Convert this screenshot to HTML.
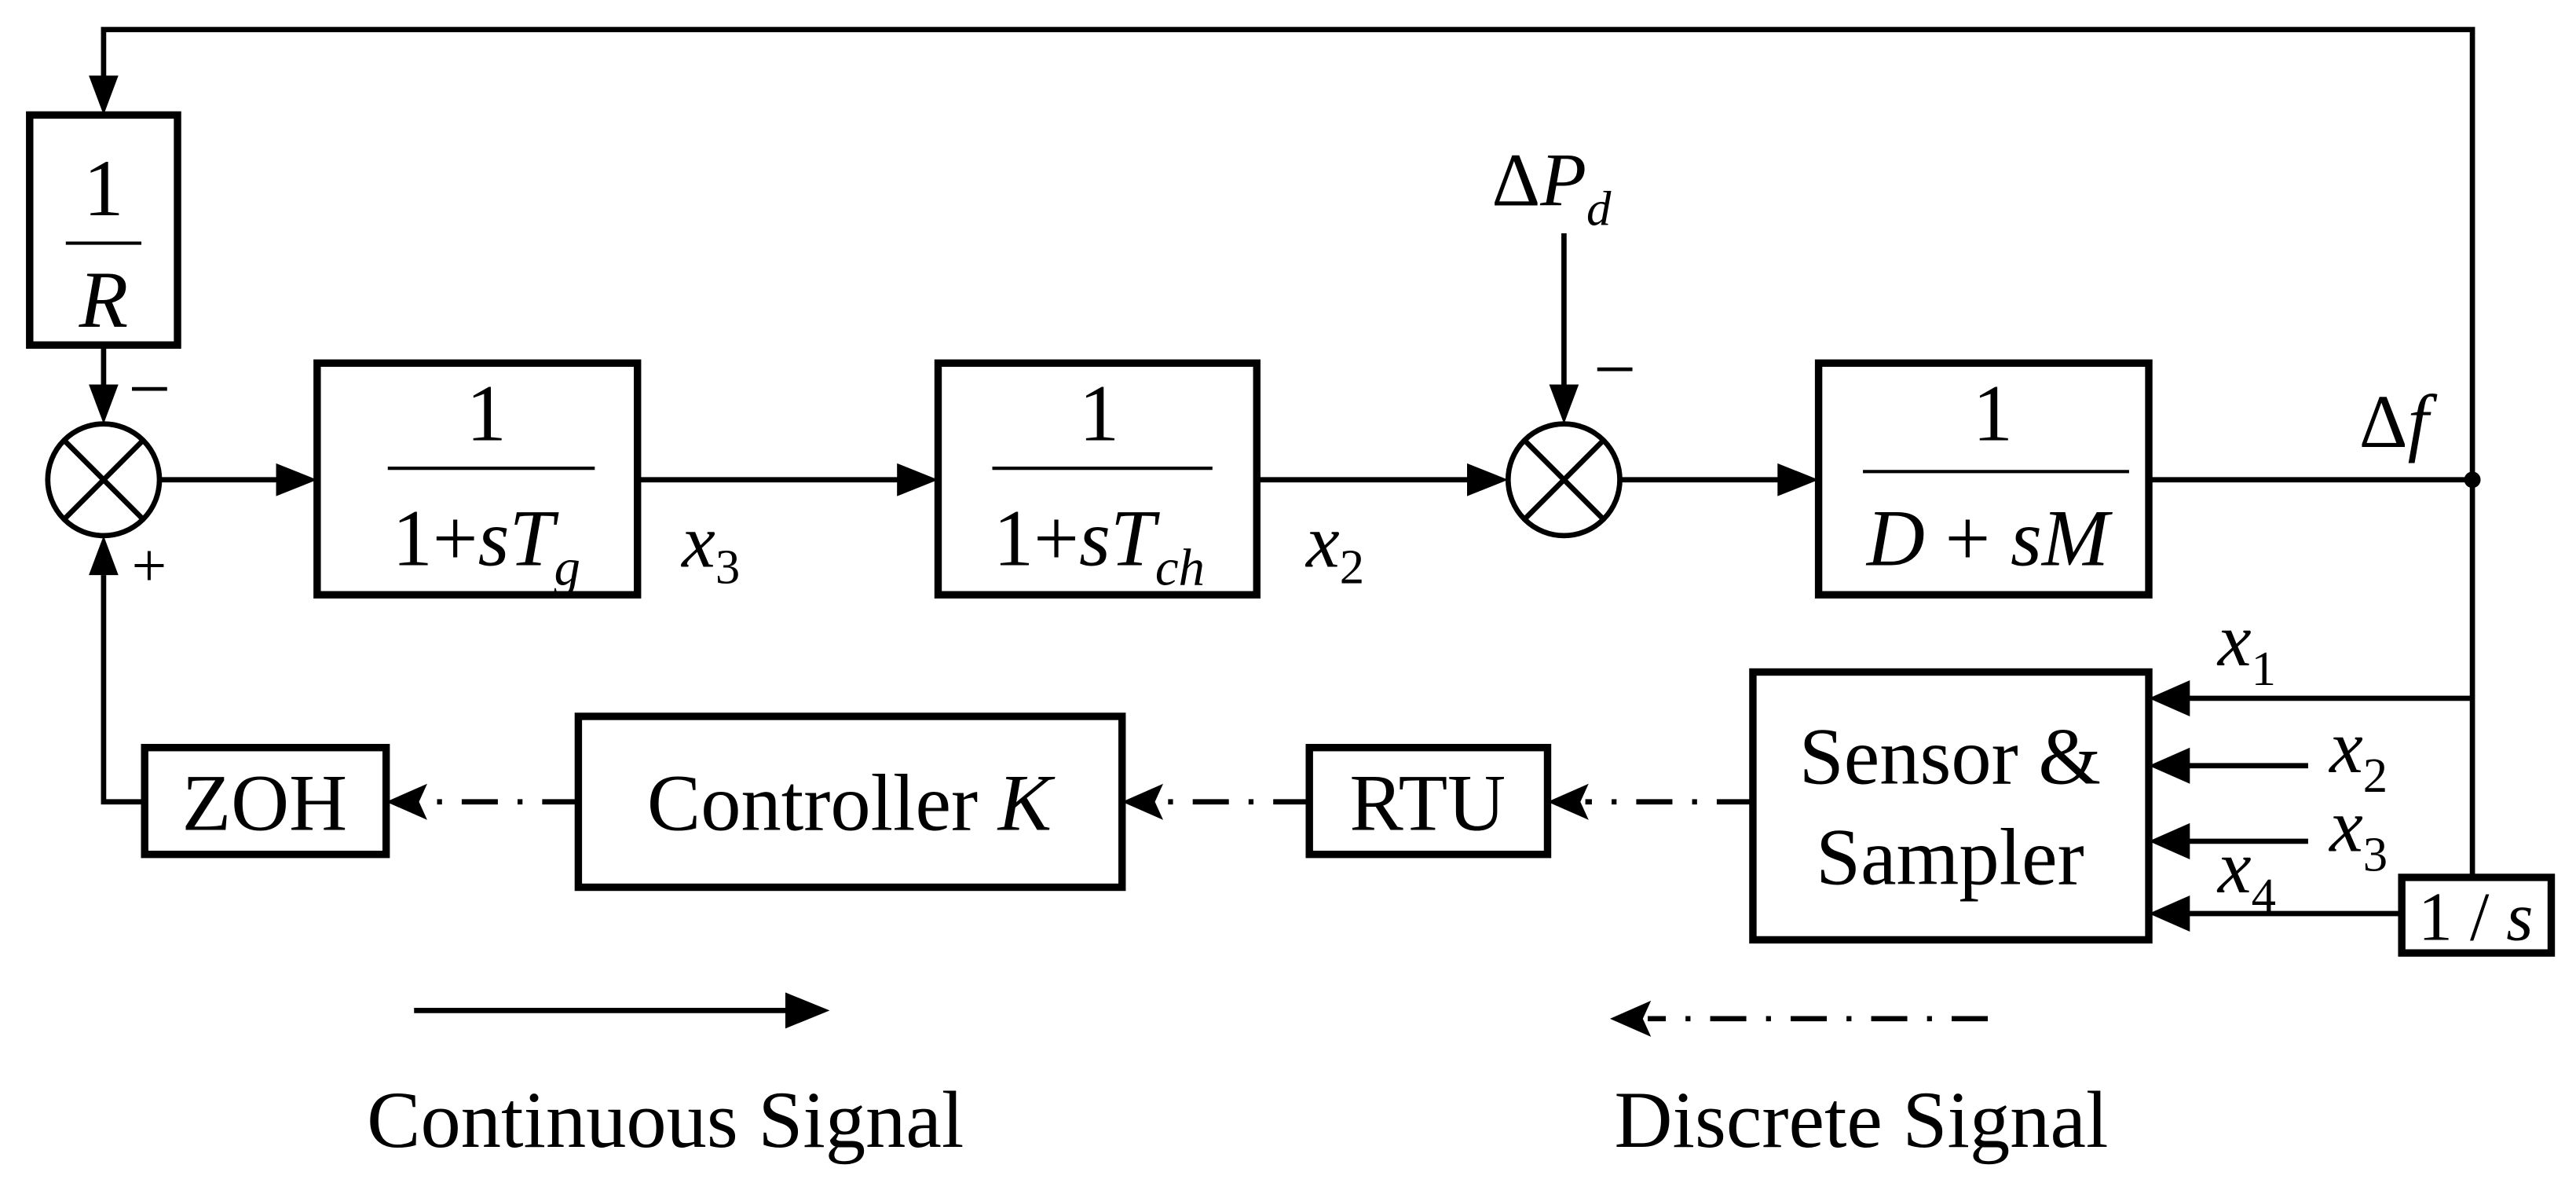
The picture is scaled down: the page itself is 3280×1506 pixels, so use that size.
<!DOCTYPE html>
<html><head><meta charset="utf-8"><style>
html,body{margin:0;padding:0;background:#fff;}
svg{display:block;}
text{font-family:"Liberation Serif",serif;fill:#000;}
.i{font-style:italic;}
</style></head><body>
<svg width="3280" height="1506" viewBox="0 0 1568 720" xmlns="http://www.w3.org/2000/svg">
<g stroke="#000" stroke-width="3.2" fill="none">
<polyline points="1505,533 1505,18 63,18 63,48"/>
<rect x="18" y="70" width="90" height="140" stroke-width="4.5"/>
<rect x="193" y="221" width="195" height="141" stroke-width="4.5"/>
<rect x="571" y="221" width="194" height="141" stroke-width="4.5"/>
<rect x="1107" y="221" width="201" height="141" stroke-width="4.5"/>
<rect x="1067" y="409" width="241" height="163" stroke-width="4.5"/>
<rect x="1462" y="534" width="91" height="46" stroke-width="4.5"/>
<rect x="797" y="455" width="145" height="65" stroke-width="4.5"/>
<rect x="352" y="436" width="331" height="104" stroke-width="4.5"/>
<rect x="88" y="455" width="147" height="65" stroke-width="4.5"/>
<line x1="40" y1="148" x2="86" y2="148" stroke-width="2"/>
<line x1="236" y1="285" x2="362" y2="285" stroke-width="2"/>
<line x1="604" y1="285" x2="738" y2="285" stroke-width="2"/>
<line x1="1134" y1="287" x2="1296" y2="287" stroke-width="2"/>
<circle cx="63" cy="292" r="34"/>
<line x1="39" y1="268" x2="87" y2="316"/><line x1="87" y1="268" x2="39" y2="316"/>
<circle cx="952" cy="292" r="34"/>
<line x1="928" y1="268" x2="976" y2="316"/><line x1="976" y1="268" x2="928" y2="316"/>
<line x1="63" y1="210" x2="63" y2="236"/>
<line x1="97" y1="292" x2="170" y2="292"/>
<line x1="388" y1="292" x2="548" y2="292"/>
<line x1="765" y1="292" x2="895" y2="292"/>
<line x1="952" y1="142" x2="952" y2="236"/>
<line x1="986" y1="292" x2="1085" y2="292"/>
<line x1="1308" y1="292" x2="1505" y2="292"/>
<line x1="1505" y1="425" x2="1330" y2="425"/>
<line x1="1405" y1="466" x2="1330" y2="466"/>
<line x1="1405" y1="512" x2="1330" y2="512"/>
<line x1="1462" y1="556" x2="1330" y2="556"/>
<polyline points="88,488 63,488 63,350"/>
<line x1="252" y1="615" x2="482" y2="615"/>
<g stroke-dasharray="22,12,3,12">
<line x1="1067" y1="488" x2="965" y2="488"/>
<line x1="797" y1="488" x2="706" y2="488"/>
<line x1="352" y1="488" x2="258" y2="488"/>
<line x1="1210" y1="620" x2="1003" y2="620"/>
</g>
</g>
<g fill="#000">
<polygon points="63,70 54,46 72,46"/>
<polygon points="63,258 54,234 72,234"/>
<polygon points="193,292 168,282 168,302"/>
<polygon points="571,292 546,282 546,302"/>
<polygon points="918,292 893,282 893,302"/>
<polygon points="952,258 943,234 961,234"/>
<polygon points="1107,292 1082,282 1082,302"/>
<polygon points="1308,425 1333,414 1333,436"/>
<polygon points="1308,466 1333,455 1333,477"/>
<polygon points="1308,512 1333,501 1333,523"/>
<polygon points="1308,556 1333,545 1333,567"/>
<polygon points="63,326 54,350 72,350"/>
<polygon points="505,615 478,604 478,626"/>
<polygon points="942,488 967,477 962,488 967,499"/>
<polygon points="683,488 708,477 703,488 708,499"/>
<polygon points="235,488 260,477 255,488 260,499"/>
<polygon points="980,620 1005,609 1000,620 1005,631"/>
<circle cx="1505" cy="292" r="5"/>
</g>
<g font-size="49" text-anchor="middle">
<text x="63" y="131">1</text>
<text x="63" y="199" class="i">R</text>
<text x="296" y="268">1</text>
<text x="296" y="344">1+<tspan class="i">sT</tspan><tspan class="i" font-size="32" dy="12">g</tspan></text>
<text x="669" y="268">1</text>
<text x="669" y="344">1+<tspan class="i">sT</tspan><tspan class="i" font-size="32" dy="12">ch</tspan></text>
<text x="1213" y="268">1</text>
<text x="1210" y="344"><tspan class="i">D</tspan> + <tspan class="i">sM</tspan></text>
<text x="1187" y="477">Sensor &amp;</text>
<text x="1187" y="538">Sampler</text>
<text x="1507" y="572" font-size="42">1 / <tspan class="i">s</tspan></text>
<text x="869" y="505">RTU</text>
<text x="517" y="505">Controller <tspan class="i">K</tspan></text>
<text x="161" y="505">ZOH</text>
<text x="405" y="698">Continuous Signal</text>
<text x="1133" y="698">Discrete Signal</text>
</g>
<g font-size="46">
<text x="908" y="125">Δ<tspan class="i">P</tspan><tspan class="i" font-size="30" dy="12">d</tspan></text>
<text x="1436" y="272">Δ<tspan class="i">f</tspan></text>
<text x="415" y="345" class="i">x<tspan font-size="30" dy="10" font-style="normal">3</tspan></text>
<text x="795" y="345" class="i">x<tspan font-size="30" dy="10" font-style="normal">2</tspan></text>
<text x="1350" y="405" class="i">x<tspan font-size="30" dy="12" font-style="normal">1</tspan></text>
<text x="1418" y="470" class="i">x<tspan font-size="30" dy="12" font-style="normal">2</tspan></text>
<text x="1418" y="518" class="i">x<tspan font-size="30" dy="12" font-style="normal">3</tspan></text>
<text x="1350" y="543" class="i">x<tspan font-size="30" dy="12" font-style="normal">4</tspan></text>
<text x="78" y="252">−</text>
<text x="80" y="357" font-size="38">+</text>
<text x="970" y="240">−</text>
</g>
</svg>
</body></html>
